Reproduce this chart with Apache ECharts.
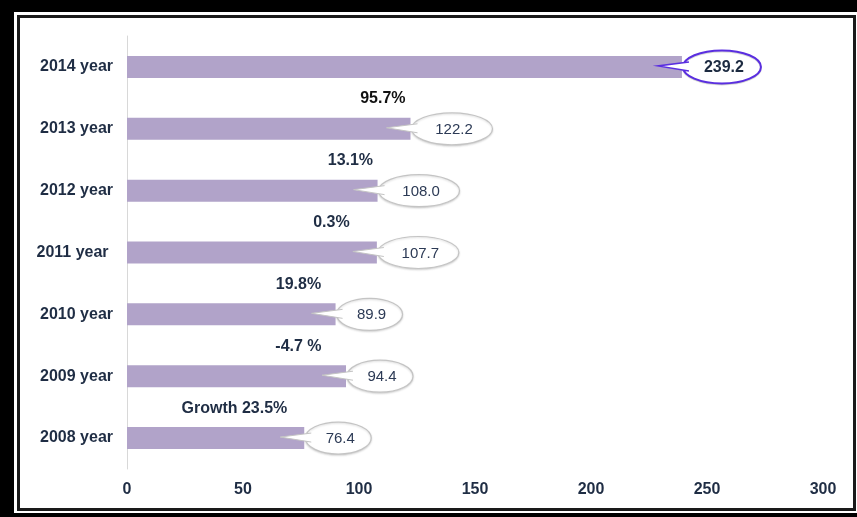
<!DOCTYPE html>
<html>
<head>
<meta charset="utf-8">
<script src="https://cdn.jsdelivr.net/npm/echarts@6/dist/echarts.min.js"></script>
<style>html,body{margin:0;padding:0;background:#fff}#main{width:857px;height:517px}</style>
</head>
<body>
<div id="main"></div>
<script>
// ---- data ----
var categories = ['2008 year', '2009 year', '2010 year', '2011 year ', '2012 year', '2013 year', '2014 year'];
var values = [76.4, 94.4, 89.9, 107.7, 108.0, 122.2, 239.2];
var valueLabels = ['76.4', '94.4', '89.9', '107.7', '108.0', '122.2', '239.2'];
// growth label shown between a year's bar and the next year's bar
var growthLabels = ['Growth 23.5%', '-4.7 %', '19.8%', '0.3%', '13.1%', '95.7%'];
var xTicks = [0, 50, 100, 150, 200, 250, 300];

// ---- layout (annotation anchors, in axis units) ----
var growthLabelX = [46.3, 73.9, 73.9, 88.1, 96.3, 110.3];

var chart = echarts.init(document.getElementById('main'), null, {renderer: 'canvas'});
var textColor = '#1f2d44';
var highlightIndex = values.length - 1;

var bubbleData = values.map(function (v, i) { return [v, i]; });
var growthData = growthLabels.map(function (t, i) { return [growthLabelX[i], i]; });

var option = {
  backgroundColor: '#ffffff',
  animation: false,
  grid: {left: 127, right: 34, top: 36, bottom: 48},
  xAxis: {
    type: 'value', min: xTicks[0], max: xTicks[xTicks.length - 1], interval: 50,
    axisLine: {show: false}, axisTick: {show: false}, splitLine: {show: false},
    axisLabel: {color: textColor, fontFamily: 'Liberation Sans', fontWeight: 'bold', fontSize: 16, margin: 13}
  },
  yAxis: {
    type: 'category', data: categories,
    axisLine: {show: true, lineStyle: {color: '#d8d8d8', width: 1}},
    axisTick: {show: false},
    axisLabel: {color: textColor, fontFamily: 'Liberation Sans', fontWeight: 'bold', fontSize: 16, margin: 14}
  },
  graphic: [
    {type: 'rect', shape: {x: 0, y: 0, width: 14, height: 517}, style: {fill: '#000'}, silent: true},
    {type: 'rect', shape: {x: 0, y: 0, width: 857, height: 12}, style: {fill: '#000'}, silent: true},
    {type: 'rect', shape: {x: 0, y: 513, width: 857, height: 4}, style: {fill: '#000'}, silent: true},
    {type: 'rect', shape: {x: 18.5, y: 16.5, width: 836, height: 493}, style: {fill: 'none', stroke: '#1a1a1a', lineWidth: 3}, silent: true}
  ],
  series: [
    {
      type: 'bar', data: values, barWidth: 22,
      itemStyle: {color: '#b1a3c9'}, silent: true, z: 2
    },
    {
      type: 'custom', data: bubbleData, encode: {x: 0, y: 1}, z: 5, silent: true,
      renderItem: function (params, api) {
        var idx = api.value(1);
        var p = api.coord([api.value(0), idx]);
        var hi = idx === highlightIndex;
        var label = valueLabels[idx];
        var rx = hi ? 39 : 7.5 * label.length + 3, ry = hi ? 16.5 : 16;
        var cx = p[0] + rx + 1, cy = p[1];
        var stroke = hi ? '#5a2ee0' : '#c4c4c4';
        var lw = hi ? 2 : 1.2;
        var tip = [p[0] - 24, cy - 1];
        var b1 = [p[0] + 7, cy - 5], b2 = [p[0] + 7, cy + 4];
        return {
          type: 'group',
          children: [
            {type: 'ellipse', shape: {cx: cx, cy: cy, rx: rx, ry: ry},
             style: {fill: '#fff', stroke: stroke, lineWidth: lw,
                     shadowBlur: hi ? 0 : 2, shadowColor: 'rgba(0,0,0,0.15)', shadowOffsetY: 1}},
            {type: 'polygon', shape: {points: [b1, tip, b2]}, style: {fill: '#fff', stroke: null}},
            {type: 'polyline', shape: {points: [b1, tip, b2]}, style: {fill: null, stroke: stroke, lineWidth: hi ? 1.5 : 1}},
            {type: 'text', x: cx + 2, y: cy + 1,
             style: {text: label, fill: hi ? '#1c2a40' : '#2c3a55', align: 'center', verticalAlign: 'middle',
                     font: (hi ? 'bold 16px' : '15px') + ' "Liberation Sans"'}}
          ]
        };
      }
    },
    {
      type: 'custom', data: growthData, encode: {x: 0, y: 1}, z: 6, silent: true,
      renderItem: function (params, api) {
        var idx = api.value(1);
        var band = api.size([0, 1])[1];
        var p = api.coord([api.value(0), idx]);
        var top = idx === growthLabels.length - 1;
        return {
          type: 'text', x: p[0], y: p[1] - band / 2 + 1,
          style: {text: growthLabels[idx], fill: top ? '#111111' : textColor, align: 'center', verticalAlign: 'middle',
                  font: 'bold 16px "Liberation Sans"'}
        };
      }
    }
  ]
};
chart.setOption(option);
</script>
</body>
</html>
